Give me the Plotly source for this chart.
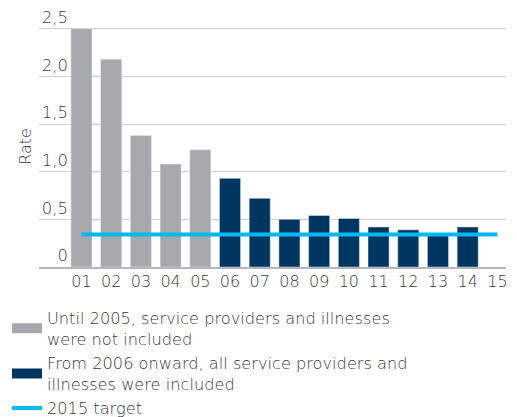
import plotly.graph_objects as go

years = ["01", "02", "03", "04", "05", "06", "07", "08", "09", "10", "11", "12", "13", "14", "15"]
years_before = ["01", "02", "03", "04", "05"]
rate_before = [2.50, 2.18, 1.38, 1.08, 1.23]
years_after = ["06", "07", "08", "09", "10", "11", "12", "13", "14"]
rate_after = [0.93, 0.72, 0.50, 0.54, 0.51, 0.42, 0.39, 0.35, 0.42]
target_2015 = [0.34] * len(years)

ytick_vals = [0, 0.5, 1.0, 1.5, 2.0, 2.5]
ytick_text = ["0", "0,5", "1,0", "1,5", "2,0", "2,5"]

name_before = "Until 2005, service providers and illnesses<br>were not included"
name_after = "From 2006 onward, all service providers and<br>illnesses were included"
name_target = "2015 target"

GRAY = "#a7a8ab"
NAVY = "#00365f"
CYAN = "#00b9f2"
TXT = "#383838"
FONT = "DejaVu Sans ExtraLight, DejaVu Sans"
W = 300

fig = go.Figure()
fig.add_trace(go.Bar(x=years_before, y=rate_before, marker_color=GRAY, showlegend=False))
fig.add_trace(go.Bar(x=years_after, y=rate_after, marker_color=NAVY, showlegend=False))
fig.add_trace(go.Scatter(x=years, y=target_2015, mode="lines",
                         line=dict(color=CYAN, width=4), showlegend=False))

# legend-only entries
fig.add_trace(go.Scatter(x=[None], y=[None], mode="lines", name=name_before,
                         line=dict(color=GRAY, width=10), legendgroup="a"))
fig.add_trace(go.Scatter(x=[None], y=[None], mode="lines", name=name_after,
                         line=dict(color=NAVY, width=10), legendgroup="b"))
fig.add_trace(go.Scatter(x=[None], y=[None], mode="lines", name=name_target,
                         line=dict(color=CYAN, width=4), legendgroup="c"))

fig.update_layout(
    width=509, height=409,
    margin=dict(l=31, r=11, t=18, b=150, autoexpand=False),
    paper_bgcolor="white", plot_bgcolor="white",
    barmode="overlay", bargap=0.29,
    font=dict(family=FONT, size=16, color=TXT, weight=W),
    showlegend=True,
    legend=dict(x=-0.0685, xanchor="left", y=-0.14, yanchor="top",
                font=dict(size=16.2, color=TXT, weight=W), tracegroupgap=0,
                itemwidth=30, bgcolor="rgba(0,0,0,0)"),
)
fig.update_xaxes(type="category", categoryorder="array", categoryarray=years,
                 range=[-1.43, 14.29], showgrid=False, zeroline=False,
                 showline=True, linecolor="#b5b5ba", linewidth=2,
                 ticks="", tickfont=dict(size=16, color=TXT, weight=W),
                 ticklabelstandoff=-1, fixedrange=True, automargin=False)
fig.update_yaxes(range=[0, 2.528], tickvals=ytick_vals, ticktext=ytick_text,
                 anchor="free", position=0.062, ticklabeloverflow="allow",
                 ticklabelposition="outside top", showgrid=True, gridcolor="#cfcfd2",
                 gridwidth=1, zeroline=False, showline=False, ticks="",
                 tickfont=dict(size=16.5, color=TXT, weight=W),
                 title=dict(text="Rate", font=dict(size=16, color=TXT, weight=W), standoff=5),
                 automargin=False, fixedrange=True)

fig.write_html("out.html")
